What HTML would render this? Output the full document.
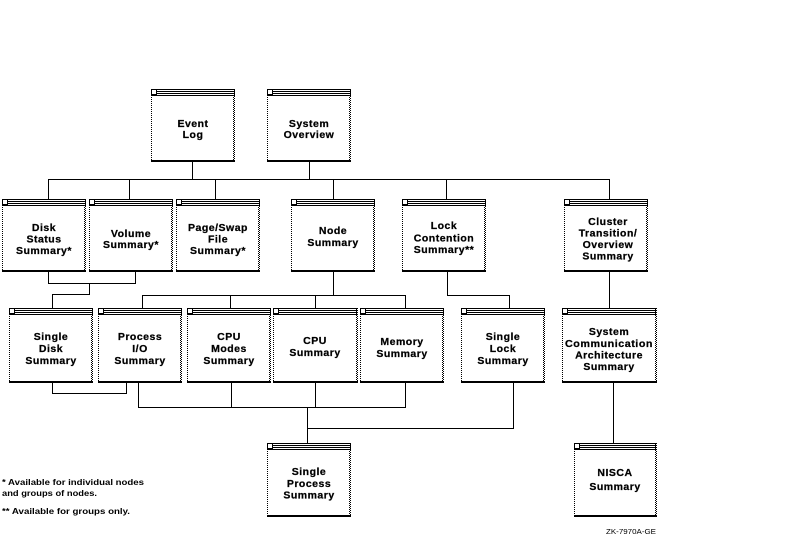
<!DOCTYPE html>
<html>
<head>
<meta charset="utf-8">
<style>
html,body{margin:0;padding:0;background:#fff;}
body{width:790px;height:538px;overflow:hidden;}
svg{display:block;}
.t{font-family:"Liberation Sans",Arial,sans-serif;font-weight:bold;font-size:10.5px;letter-spacing:0.5px;fill:#000;stroke:#000;stroke-width:0.25;text-anchor:middle;}
.f{font-family:"Liberation Sans",Arial,sans-serif;font-weight:bold;font-size:8.5px;fill:#000;}
</style>
</head>
<body>
<svg width="790" height="538" viewBox="0 0 790 538" xmlns="http://www.w3.org/2000/svg">
<defs>
<pattern id="ck" width="2" height="2" patternUnits="userSpaceOnUse">
<rect x="0" y="0" width="1" height="1" fill="#000"/>
<rect x="1" y="1" width="1" height="1" fill="#000"/>
</pattern>
</defs>
<rect width="790" height="538" fill="#fff"/>

<!-- connectors -->
<g stroke="#000" stroke-width="1" fill="none" shape-rendering="crispEdges">
<path d="M192.5 162V179.5M309.5 162V179.5M48 179.5H610"/>
<path d="M48.5 179V199M129.5 179V199M215.5 179V199M333.5 179V199M446.5 179V199M609.5 179V199"/>
<path d="M48.5 272V283.5H135.5V272M89.5 283V294.5H52.5V308"/>
<path d="M333.5 272V295.5M142 295.5H406M142.5 295V308M230.5 295V308M315.5 295V308M405.5 295V308"/>
<path d="M447.5 272V295.5H509.5V308"/>
<path d="M609.5 272V308"/>
<path d="M52.5 383V393.5H126.5V383"/>
<path d="M138.5 383V407.5M138 407.5H406M231.5 383V407.5M315.5 383V407.5M405.5 383V407.5"/>
<path d="M307.5 407V443M307 428.5H514M513.5 383V429"/>
<path d="M613.5 383V443"/>
</g>

<!-- boxes -->
<g shape-rendering="crispEdges">
<g transform="translate(151,89)"><rect width="84" height="73" fill="#fff"/><line x1="0.5" y1="0" x2="0.5" y2="73" stroke="#000" stroke-dasharray="1,1"/><rect x="82" y="0" width="2" height="73" fill="url(#ck)"/><rect x="0" y="71" width="84" height="2" fill="#000"/><rect x="0" y="0" width="84" height="1" fill="#000"/><rect x="6" y="2" width="78" height="1" fill="#000"/><rect x="6" y="4" width="78" height="1" fill="#000"/><rect x="0" y="6" width="84" height="1" fill="#000"/><rect x="0.5" y="0.5" width="5" height="5" fill="none" stroke="#000"/></g>
<g transform="translate(267,89)"><rect width="84" height="73" fill="#fff"/><line x1="0.5" y1="0" x2="0.5" y2="73" stroke="#000" stroke-dasharray="1,1"/><rect x="82" y="0" width="2" height="73" fill="url(#ck)"/><rect x="0" y="71" width="84" height="2" fill="#000"/><rect x="0" y="0" width="84" height="1" fill="#000"/><rect x="6" y="2" width="78" height="1" fill="#000"/><rect x="6" y="4" width="78" height="1" fill="#000"/><rect x="0" y="6" width="84" height="1" fill="#000"/><rect x="0.5" y="0.5" width="5" height="5" fill="none" stroke="#000"/></g>

<g transform="translate(2,199)"><rect width="84" height="73" fill="#fff"/><line x1="0.5" y1="0" x2="0.5" y2="73" stroke="#000" stroke-dasharray="1,1"/><rect x="82" y="0" width="2" height="73" fill="url(#ck)"/><rect x="0" y="71" width="84" height="2" fill="#000"/><rect x="0" y="0" width="84" height="1" fill="#000"/><rect x="6" y="2" width="78" height="1" fill="#000"/><rect x="6" y="4" width="78" height="1" fill="#000"/><rect x="0" y="6" width="84" height="1" fill="#000"/><rect x="0.5" y="0.5" width="5" height="5" fill="none" stroke="#000"/></g>
<g transform="translate(89,199)"><rect width="84" height="73" fill="#fff"/><line x1="0.5" y1="0" x2="0.5" y2="73" stroke="#000" stroke-dasharray="1,1"/><rect x="82" y="0" width="2" height="73" fill="url(#ck)"/><rect x="0" y="71" width="84" height="2" fill="#000"/><rect x="0" y="0" width="84" height="1" fill="#000"/><rect x="6" y="2" width="78" height="1" fill="#000"/><rect x="6" y="4" width="78" height="1" fill="#000"/><rect x="0" y="6" width="84" height="1" fill="#000"/><rect x="0.5" y="0.5" width="5" height="5" fill="none" stroke="#000"/></g>
<g transform="translate(176,199)"><rect width="84" height="73" fill="#fff"/><line x1="0.5" y1="0" x2="0.5" y2="73" stroke="#000" stroke-dasharray="1,1"/><rect x="82" y="0" width="2" height="73" fill="url(#ck)"/><rect x="0" y="71" width="84" height="2" fill="#000"/><rect x="0" y="0" width="84" height="1" fill="#000"/><rect x="6" y="2" width="78" height="1" fill="#000"/><rect x="6" y="4" width="78" height="1" fill="#000"/><rect x="0" y="6" width="84" height="1" fill="#000"/><rect x="0.5" y="0.5" width="5" height="5" fill="none" stroke="#000"/></g>
<g transform="translate(291,199)"><rect width="84" height="73" fill="#fff"/><line x1="0.5" y1="0" x2="0.5" y2="73" stroke="#000" stroke-dasharray="1,1"/><rect x="82" y="0" width="2" height="73" fill="url(#ck)"/><rect x="0" y="71" width="84" height="2" fill="#000"/><rect x="0" y="0" width="84" height="1" fill="#000"/><rect x="6" y="2" width="78" height="1" fill="#000"/><rect x="6" y="4" width="78" height="1" fill="#000"/><rect x="0" y="6" width="84" height="1" fill="#000"/><rect x="0.5" y="0.5" width="5" height="5" fill="none" stroke="#000"/></g>
<g transform="translate(402,199)"><rect width="84" height="73" fill="#fff"/><line x1="0.5" y1="0" x2="0.5" y2="73" stroke="#000" stroke-dasharray="1,1"/><rect x="82" y="0" width="2" height="73" fill="url(#ck)"/><rect x="0" y="71" width="84" height="2" fill="#000"/><rect x="0" y="0" width="84" height="1" fill="#000"/><rect x="6" y="2" width="78" height="1" fill="#000"/><rect x="6" y="4" width="78" height="1" fill="#000"/><rect x="0" y="6" width="84" height="1" fill="#000"/><rect x="0.5" y="0.5" width="5" height="5" fill="none" stroke="#000"/></g>
<g transform="translate(564,199)"><rect width="84" height="73" fill="#fff"/><line x1="0.5" y1="0" x2="0.5" y2="73" stroke="#000" stroke-dasharray="1,1"/><rect x="82" y="0" width="2" height="73" fill="url(#ck)"/><rect x="0" y="71" width="84" height="2" fill="#000"/><rect x="0" y="0" width="84" height="1" fill="#000"/><rect x="6" y="2" width="78" height="1" fill="#000"/><rect x="6" y="4" width="78" height="1" fill="#000"/><rect x="0" y="6" width="84" height="1" fill="#000"/><rect x="0.5" y="0.5" width="5" height="5" fill="none" stroke="#000"/></g>

<g transform="translate(9,308)"><rect width="84" height="75" fill="#fff"/><line x1="0.5" y1="0" x2="0.5" y2="75" stroke="#000" stroke-dasharray="1,1"/><rect x="82" y="0" width="2" height="75" fill="url(#ck)"/><rect x="0" y="73" width="84" height="2" fill="#000"/><rect x="0" y="0" width="84" height="1" fill="#000"/><rect x="6" y="2" width="78" height="1" fill="#000"/><rect x="6" y="4" width="78" height="1" fill="#000"/><rect x="0" y="6" width="84" height="1" fill="#000"/><rect x="0.5" y="0.5" width="5" height="5" fill="none" stroke="#000"/></g>
<g transform="translate(98,308)"><rect width="84" height="75" fill="#fff"/><line x1="0.5" y1="0" x2="0.5" y2="75" stroke="#000" stroke-dasharray="1,1"/><rect x="82" y="0" width="2" height="75" fill="url(#ck)"/><rect x="0" y="73" width="84" height="2" fill="#000"/><rect x="0" y="0" width="84" height="1" fill="#000"/><rect x="6" y="2" width="78" height="1" fill="#000"/><rect x="6" y="4" width="78" height="1" fill="#000"/><rect x="0" y="6" width="84" height="1" fill="#000"/><rect x="0.5" y="0.5" width="5" height="5" fill="none" stroke="#000"/></g>
<g transform="translate(187,308)"><rect width="84" height="75" fill="#fff"/><line x1="0.5" y1="0" x2="0.5" y2="75" stroke="#000" stroke-dasharray="1,1"/><rect x="82" y="0" width="2" height="75" fill="url(#ck)"/><rect x="0" y="73" width="84" height="2" fill="#000"/><rect x="0" y="0" width="84" height="1" fill="#000"/><rect x="6" y="2" width="78" height="1" fill="#000"/><rect x="6" y="4" width="78" height="1" fill="#000"/><rect x="0" y="6" width="84" height="1" fill="#000"/><rect x="0.5" y="0.5" width="5" height="5" fill="none" stroke="#000"/></g>
<g transform="translate(273,308)"><rect width="85" height="75" fill="#fff"/><line x1="0.5" y1="0" x2="0.5" y2="75" stroke="#000" stroke-dasharray="1,1"/><rect x="83" y="0" width="2" height="75" fill="url(#ck)"/><rect x="0" y="73" width="85" height="2" fill="#000"/><rect x="0" y="0" width="85" height="1" fill="#000"/><rect x="6" y="2" width="79" height="1" fill="#000"/><rect x="6" y="4" width="79" height="1" fill="#000"/><rect x="0" y="6" width="85" height="1" fill="#000"/><rect x="0.5" y="0.5" width="5" height="5" fill="none" stroke="#000"/></g>
<g transform="translate(360,308)"><rect width="84" height="75" fill="#fff"/><line x1="0.5" y1="0" x2="0.5" y2="75" stroke="#000" stroke-dasharray="1,1"/><rect x="82" y="0" width="2" height="75" fill="url(#ck)"/><rect x="0" y="73" width="84" height="2" fill="#000"/><rect x="0" y="0" width="84" height="1" fill="#000"/><rect x="6" y="2" width="78" height="1" fill="#000"/><rect x="6" y="4" width="78" height="1" fill="#000"/><rect x="0" y="6" width="84" height="1" fill="#000"/><rect x="0.5" y="0.5" width="5" height="5" fill="none" stroke="#000"/></g>
<g transform="translate(461,308)"><rect width="84" height="75" fill="#fff"/><line x1="0.5" y1="0" x2="0.5" y2="75" stroke="#000" stroke-dasharray="1,1"/><rect x="82" y="0" width="2" height="75" fill="url(#ck)"/><rect x="0" y="73" width="84" height="2" fill="#000"/><rect x="0" y="0" width="84" height="1" fill="#000"/><rect x="6" y="2" width="78" height="1" fill="#000"/><rect x="6" y="4" width="78" height="1" fill="#000"/><rect x="0" y="6" width="84" height="1" fill="#000"/><rect x="0.5" y="0.5" width="5" height="5" fill="none" stroke="#000"/></g>
<g transform="translate(562,308)"><rect width="95" height="75" fill="#fff"/><line x1="0.5" y1="0" x2="0.5" y2="75" stroke="#000" stroke-dasharray="1,1"/><rect x="93" y="0" width="2" height="75" fill="url(#ck)"/><rect x="0" y="73" width="95" height="2" fill="#000"/><rect x="0" y="0" width="95" height="1" fill="#000"/><rect x="6" y="2" width="89" height="1" fill="#000"/><rect x="6" y="4" width="89" height="1" fill="#000"/><rect x="0" y="6" width="95" height="1" fill="#000"/><rect x="0.5" y="0.5" width="5" height="5" fill="none" stroke="#000"/></g>

<g transform="translate(267,443)"><rect width="84" height="74" fill="#fff"/><line x1="0.5" y1="0" x2="0.5" y2="74" stroke="#000" stroke-dasharray="1,1"/><rect x="82" y="0" width="2" height="74" fill="url(#ck)"/><rect x="0" y="72" width="84" height="2" fill="#000"/><rect x="0" y="0" width="84" height="1" fill="#000"/><rect x="6" y="2" width="78" height="1" fill="#000"/><rect x="6" y="4" width="78" height="1" fill="#000"/><rect x="0" y="6" width="84" height="1" fill="#000"/><rect x="0.5" y="0.5" width="5" height="5" fill="none" stroke="#000"/></g>
<g transform="translate(574,443)"><rect width="83" height="74" fill="#fff"/><line x1="0.5" y1="0" x2="0.5" y2="74" stroke="#000" stroke-dasharray="1,1"/><rect x="81" y="0" width="2" height="74" fill="url(#ck)"/><rect x="0" y="72" width="83" height="2" fill="#000"/><rect x="0" y="0" width="83" height="1" fill="#000"/><rect x="6" y="2" width="77" height="1" fill="#000"/><rect x="6" y="4" width="77" height="1" fill="#000"/><rect x="0" y="6" width="83" height="1" fill="#000"/><rect x="0.5" y="0.5" width="5" height="5" fill="none" stroke="#000"/></g>
</g>

<!-- labels -->
<text class="t" x="193" y="127">Event</text>
<text class="t" x="193" y="138">Log</text>
<text class="t" x="309" y="127">System</text>
<text class="t" x="309" y="138">Overview</text>

<text class="t" x="44" y="231">Disk</text>
<text class="t" x="44" y="242.5">Status</text>
<text class="t" x="44" y="254">Summary*</text>
<text class="t" x="131" y="237">Volume</text>
<text class="t" x="131" y="248">Summary*</text>
<text class="t" x="218" y="231">Page/Swap</text>
<text class="t" x="218" y="242.5">File</text>
<text class="t" x="218" y="254">Summary*</text>
<text class="t" x="333" y="234">Node</text>
<text class="t" x="333" y="246">Summary</text>
<text class="t" x="444" y="229">Lock</text>
<text class="t" x="444" y="241.5">Contention</text>
<text class="t" x="444" y="253">Summary**</text>
<text class="t" x="608" y="225">Cluster</text>
<text class="t" x="608" y="236.5">Transition/</text>
<text class="t" x="608" y="248">Overview</text>
<text class="t" x="608" y="259.5">Summary</text>

<text class="t" x="51" y="340">Single</text>
<text class="t" x="51" y="352">Disk</text>
<text class="t" x="51" y="364">Summary</text>
<text class="t" x="140" y="340">Process</text>
<text class="t" x="140" y="352">I/O</text>
<text class="t" x="140" y="364">Summary</text>
<text class="t" x="229" y="340">CPU</text>
<text class="t" x="229" y="352">Modes</text>
<text class="t" x="229" y="364">Summary</text>
<text class="t" x="315" y="344">CPU</text>
<text class="t" x="315" y="356">Summary</text>
<text class="t" x="402" y="345">Memory</text>
<text class="t" x="402" y="357">Summary</text>
<text class="t" x="503" y="340">Single</text>
<text class="t" x="503" y="352">Lock</text>
<text class="t" x="503" y="364">Summary</text>
<text class="t" x="609" y="335">System</text>
<text class="t" x="609" y="347" textLength="88" lengthAdjust="spacingAndGlyphs">Communication</text>
<text class="t" x="609" y="358.5">Architecture</text>
<text class="t" x="609" y="370">Summary</text>

<text class="t" x="309" y="475">Single</text>
<text class="t" x="309" y="487">Process</text>
<text class="t" x="309" y="498.5">Summary</text>
<text class="t" x="615" y="476">NISCA</text>
<text class="t" x="615" y="490">Summary</text>

<!-- footnotes -->
<text class="f" x="2" y="485" textLength="142" lengthAdjust="spacingAndGlyphs">* Available for individual nodes</text>
<text class="f" x="2" y="496" textLength="95" lengthAdjust="spacingAndGlyphs">and groups of nodes.</text>
<text class="f" x="2" y="514" textLength="128" lengthAdjust="spacingAndGlyphs">** Available for groups only.</text>
<text class="f" x="606" y="534" style="font-size:7px;font-weight:normal" textLength="50" lengthAdjust="spacingAndGlyphs">ZK-7970A-GE</text>
</svg>
</body>
</html>
